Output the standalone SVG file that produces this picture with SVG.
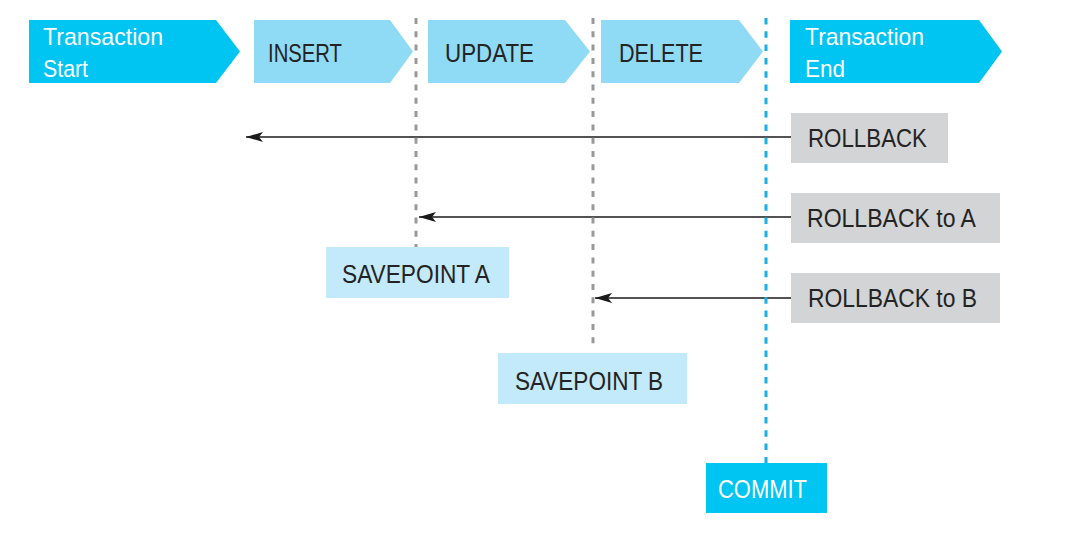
<svg xmlns="http://www.w3.org/2000/svg" width="1066" height="540" viewBox="0 0 1066 540">
<style>
text{font-family:"Liberation Sans",Arial,sans-serif;}
.dark{fill:#00c4f1;}
.light{fill:#8fdbf6;}
.sp{fill:#c3eafa;}
.rb{fill:#d3d4d5;}
.tw{fill:#ffffff;font-size:24px;}
.tb{fill:#232323;font-size:25px;}
.arr{stroke:#1a1a1a;stroke-width:1.6;fill:none;}
.gd{stroke:#999999;stroke-width:3;stroke-dasharray:6 7.3;fill:none;}
.bd{stroke:#1aaeea;stroke-width:3;stroke-dasharray:6.5 6.8;fill:none;}
</style>
<defs>
<marker id="ah" markerUnits="userSpaceOnUse" markerWidth="20" markerHeight="12" refX="17" refY="5" orient="auto">
<path d="M0,0 L17,5 L0,10 L4,5 z" fill="#1a1a1a"/>
</marker>
</defs>
<rect width="1066" height="540" fill="#ffffff"/>

<g id="tx-start">
<polygon class="dark" points="29,20 216,20 240,51.5 216,83 29,83"/>
<text class="tw" x="43" y="45" textLength="120" lengthAdjust="spacingAndGlyphs">Transaction</text>
<text class="tw" x="43" y="77" textLength="45" lengthAdjust="spacingAndGlyphs">Start</text>
</g>
<g id="insert">
<polygon class="light" points="254,20 390,20 413,51.5 390,83 254,83"/>
<text class="tb" x="268" y="61.5" textLength="74" lengthAdjust="spacingAndGlyphs">INSERT</text>
</g>
<g id="update">
<polygon class="light" points="428,20 565,20 590,51.5 565,83 428,83"/>
<text class="tb" x="445" y="61.5" textLength="89" lengthAdjust="spacingAndGlyphs">UPDATE</text>
</g>
<g id="delete">
<polygon class="light" points="601,20 739,20 763,51.5 739,83 601,83"/>
<text class="tb" x="619" y="61.5" textLength="84" lengthAdjust="spacingAndGlyphs">DELETE</text>
</g>
<g id="tx-end">
<polygon class="dark" points="790,20 979,20 1002,51.5 979,83 790,83"/>
<text class="tw" x="805" y="45" textLength="119" lengthAdjust="spacingAndGlyphs">Transaction</text>
<text class="tw" x="805" y="77" textLength="40" lengthAdjust="spacingAndGlyphs">End</text>
</g>

<g id="rollback">
<rect class="rb" x="791" y="113" width="157" height="50"/>
<text class="tb" x="808" y="147" textLength="119" lengthAdjust="spacingAndGlyphs">ROLLBACK</text>
</g>
<g id="rollback-a">
<rect class="rb" x="791" y="193" width="209" height="50"/>
<text class="tb" x="807" y="227" textLength="169" lengthAdjust="spacingAndGlyphs">ROLLBACK to A</text>
</g>
<g id="rollback-b">
<rect class="rb" x="791" y="273" width="209" height="50"/>
<text class="tb" x="808" y="307" textLength="169" lengthAdjust="spacingAndGlyphs">ROLLBACK to B</text>
</g>

<g id="savepoint-a">
<rect class="sp" x="326" y="247" width="183" height="51"/>
<text class="tb" x="342" y="283" textLength="148" lengthAdjust="spacingAndGlyphs">SAVEPOINT A</text>
</g>
<g id="savepoint-b">
<rect class="sp" x="498" y="353" width="189" height="51"/>
<text class="tb" x="515" y="390" textLength="148" lengthAdjust="spacingAndGlyphs">SAVEPOINT B</text>
</g>
<g id="commit">
<rect class="dark" x="706" y="463" width="121" height="50"/>
<text class="tw" x="718" y="498" style="font-size:25px" textLength="89" lengthAdjust="spacingAndGlyphs">COMMIT</text>
</g>

<g id="connectors">
<line class="arr" x1="791" y1="137" x2="246" y2="137" marker-end="url(#ah)"/>
<line class="arr" x1="791" y1="217" x2="419" y2="217" marker-end="url(#ah)"/>
<line class="arr" x1="791" y1="298" x2="595" y2="298" marker-end="url(#ah)"/>
<line class="gd" x1="416" y1="18" x2="416" y2="247"/>
<line class="gd" x1="593" y1="18" x2="593" y2="350"/>
<line class="bd" x1="766" y1="18" x2="766" y2="463"/>
</g>
</svg>
